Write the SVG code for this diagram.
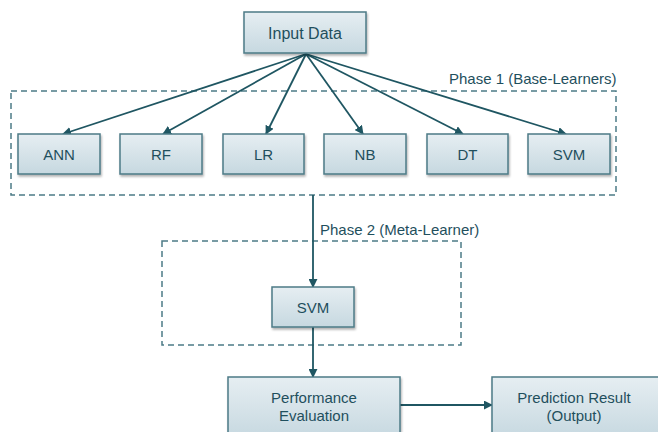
<svg xmlns="http://www.w3.org/2000/svg" width="658" height="432" viewBox="0 0 658 432">
  <defs>
    <linearGradient id="boxFill" x1="0" y1="0" x2="0" y2="1">
      <stop offset="0" stop-color="#e6eef2"/>
      <stop offset="1" stop-color="#c6d8e0"/>
    </linearGradient>
    <filter id="shadow" x="-10%" y="-10%" width="130%" height="140%">
      <feDropShadow dx="1" dy="2" stdDeviation="1.2" flood-color="#000" flood-opacity="0.3"/>
    </filter>
    <marker id="arrow" viewBox="0 0 10 10" refX="9" refY="5" markerWidth="5" markerHeight="5" orient="auto" markerUnits="strokeWidth">
      <path d="M0,0 L10,5 L0,10 z" fill="#1f5662"/>
    </marker>
    <style>
      .box { fill: url(#boxFill); stroke: #4c7b86; stroke-width: 1.5; filter: url(#shadow); }
      .lbl { font-family: "Liberation Sans", Arial, sans-serif; font-size: 15px; fill: #1f4f5d; text-anchor: middle; dominant-baseline: central; }
      .big { font-size: 16px; }
      .phase { fill: none; stroke: #4c7b86; stroke-width: 1.5; stroke-dasharray: 6 4; }
      .phase-lbl { font-family: "Liberation Sans", Arial, sans-serif; font-size: 15px; fill: #1f4f5d; }
      .edge { fill: none; stroke: #1f5662; stroke-width: 1.8; marker-end: url(#arrow); }
      .edge-plain { fill: none; stroke: #1f5662; stroke-width: 1.8; }
    </style>
  </defs>

  <!-- phase containers -->
  <g id="phase1">
    <rect class="phase" x="11" y="91" width="605" height="104"/>
    <text class="phase-lbl" x="449" y="84">Phase 1 (Base-Learners)</text>
  </g>
  <g id="phase2">
    <rect class="phase" x="162" y="241" width="299" height="104"/>
    <text class="phase-lbl" x="320" y="235">Phase 2 (Meta-Learner)</text>
  </g>

  <!-- connectors -->
  <g id="connectors">
    <line class="edge" x1="306" y1="54" x2="63" y2="134"/>
    <line class="edge" x1="306" y1="54" x2="163" y2="134"/>
    <line class="edge" x1="306" y1="54" x2="266" y2="134"/>
    <line class="edge" x1="306" y1="54" x2="363" y2="134"/>
    <line class="edge" x1="306" y1="54" x2="463" y2="134"/>
    <line class="edge" x1="306" y1="54" x2="566" y2="134"/>
    <line class="edge" x1="313" y1="195" x2="313" y2="287"/>
    <line class="edge" x1="313" y1="327" x2="313" y2="377"/>
    <line class="edge" x1="400" y1="405" x2="492" y2="405"/>
  </g>

  <!-- nodes -->
  <g id="input-data">
    <rect class="box" x="244" y="12" width="122" height="41"/>
    <text class="lbl big" x="305" y="33">Input Data</text>
  </g>
  <g id="ann">
    <rect class="box" x="18" y="134" width="82" height="40"/>
    <text class="lbl" x="59" y="154">ANN</text>
  </g>
  <g id="rf">
    <rect class="box" x="120" y="134" width="82" height="40"/>
    <text class="lbl" x="161" y="154">RF</text>
  </g>
  <g id="lr">
    <rect class="box" x="223" y="134" width="81" height="40"/>
    <text class="lbl" x="263.5" y="154">LR</text>
  </g>
  <g id="nb">
    <rect class="box" x="324" y="134" width="82" height="40"/>
    <text class="lbl" x="365" y="154">NB</text>
  </g>
  <g id="dt">
    <rect class="box" x="427" y="134" width="81" height="40"/>
    <text class="lbl" x="467.5" y="154">DT</text>
  </g>
  <g id="svm-base">
    <rect class="box" x="528" y="134" width="82" height="40"/>
    <text class="lbl" x="569" y="154">SVM</text>
  </g>
  <g id="svm-meta">
    <rect class="box" x="272" y="287" width="82" height="40"/>
    <text class="lbl" x="313" y="307">SVM</text>
  </g>
  <g id="performance-evaluation">
    <rect class="box" x="228" y="377" width="172" height="62"/>
    <text class="lbl" x="314" y="397">Performance</text>
    <text class="lbl" x="314" y="415">Evaluation</text>
  </g>
  <g id="prediction-result">
    <rect class="box" x="492" y="377" width="172" height="62"/>
    <text class="lbl" x="574" y="397">Prediction Result</text>
    <text class="lbl" x="574" y="415">(Output)</text>
  </g>
</svg>
